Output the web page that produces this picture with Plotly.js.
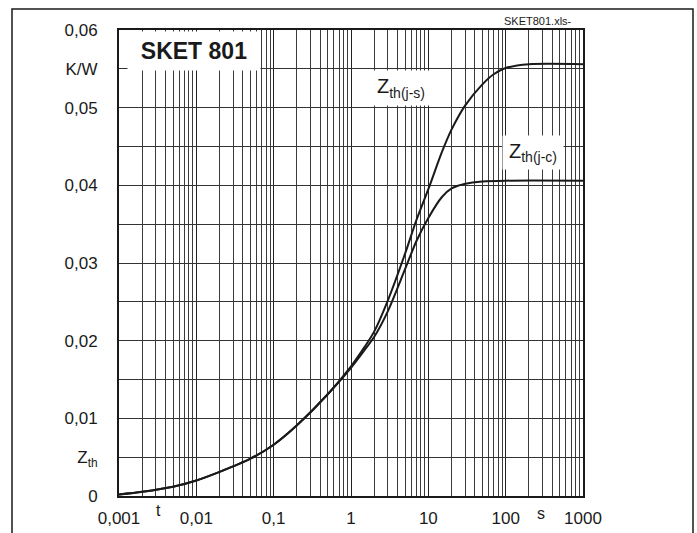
<!DOCTYPE html>
<html>
<head>
<meta charset="utf-8">
<script src="https://cdn.plot.ly/plotly-3.0.1.min.js"></script>
<style>html,body{margin:0;padding:0;background:#fff;}#chart{width:697px;height:533px;}</style>
</head>
<body>
<div id="chart"></div>
<script>
// Data
const timeJS = [0.001, 0.002, 0.005, 0.01, 0.02, 0.05, 0.1, 0.2, 0.5, 1, 1.5, 2, 3, 5, 7, 10, 15, 20, 30, 50, 70, 100, 200, 1000];
const zthJS  = [0.0002, 0.00055, 0.0012, 0.002, 0.0031, 0.0048, 0.0066, 0.0091, 0.0131, 0.0167, 0.0192, 0.0212, 0.0252, 0.0312, 0.0355, 0.0395, 0.0443, 0.0472, 0.0503, 0.053, 0.0543, 0.0551, 0.0556, 0.0556];
const timeJC = [0.001, 0.002, 0.005, 0.01, 0.02, 0.05, 0.1, 0.2, 0.5, 1, 1.5, 2, 3, 5, 7, 10, 15, 20, 30, 50, 100, 1000];
const zthJC  = [0.0002, 0.00055, 0.0012, 0.002, 0.0031, 0.0048, 0.0066, 0.0091, 0.0131, 0.0165, 0.0188, 0.0205, 0.0238, 0.0292, 0.0328, 0.0358, 0.0385, 0.0396, 0.0402, 0.0405, 0.0406, 0.0406];

const xTickVals = [0.001, 0.01, 0.1, 1, 10, 100, 1000];
const xTickText = ['0,001', '0,01', '0,1', '1', '10', '100', '1000'];
const xMinorVals = [];
for (let d = -3; d < 3; d++) { for (let m = 2; m <= 9; m++) { xMinorVals.push(m * Math.pow(10, d)); } }
const yTickVals = [0, 0.005, 0.01, 0.015, 0.02, 0.025, 0.03, 0.035, 0.04, 0.045, 0.05, 0.055, 0.06];
const yTickText = ['0', 'Z<sub>th</sub>', '0,01', '', '0,02', '', '0,03', '', '0,04', '', '0,05', 'K/W', '0,06'];

const FONT = 'Liberation Sans, Arial, sans-serif';
const lineStyle = {color: '#1a1a1a', width: 2, shape: 'spline', smoothing: 0.8};

const traces = [
  {x: timeJS, y: zthJS, type: 'scatter', mode: 'lines', line: lineStyle, name: 'Zth(j-s)', hoverinfo: 'skip'},
  {x: timeJC, y: zthJC, type: 'scatter', mode: 'lines', line: lineStyle, name: 'Zth(j-c)', hoverinfo: 'skip'}
];

const W = 464, H = 466, L = 119, T = 30;
const px = v => (v - L) / W;
const py = v => (T + H - v) / H;

const layout = {
  width: 697, height: 533,
  margin: {l: 119, r: 114, t: 30, b: 37, pad: 0},
  paper_bgcolor: '#fff', plot_bgcolor: '#fff',
  showlegend: false,
  font: {family: FONT, color: '#1a1a1a', size: 17},
  xaxis: {
    type: 'log', range: [-3, 3],
    tickmode: 'array', tickvals: xTickVals, ticktext: xTickText,
    showgrid: true, gridcolor: '#222', gridwidth: 1,
    minor: {tickmode: 'array', tickvals: xMinorVals, showgrid: true, gridcolor: '#3c3c3c', gridwidth: 1, ticks: ''},
    showline: true, linecolor: '#1a1a1a', linewidth: 2, mirror: true,
    ticks: 'outside', ticklen: 6, tickcolor: 'rgba(0,0,0,0)',
    tickfont: {family: FONT, size: 17, color: '#1a1a1a'},
    zeroline: false, fixedrange: true
  },
  yaxis: {
    range: [0, 0.06],
    tickmode: 'array', tickvals: yTickVals, ticktext: yTickText,
    showgrid: true, gridcolor: '#333', gridwidth: 1,
    showline: true, linecolor: '#1a1a1a', linewidth: 2, mirror: true,
    ticks: 'outside', ticklen: 16, tickcolor: 'rgba(0,0,0,0)',
    tickfont: {family: FONT, size: 17, color: '#1a1a1a'},
    zeroline: false, fixedrange: true
  },
  shapes: [
    {type: 'rect', xref: 'paper', yref: 'paper', x0: px(12), x1: px(693), y0: py(545), y1: py(9),
     line: {color: '#1a1a1a', width: 1.5}, fillcolor: 'rgba(0,0,0,0)', layer: 'below'}
  ],
  annotations: [
    {xref: 'paper', yref: 'paper', x: px(194), y: py(51), text: '<b>SKET 801</b>', showarrow: false,
     font: {family: FONT, size: 23, color: '#1a1a1a'}, bgcolor: '#fff', width: 130, height: 36,
     xanchor: 'center', yanchor: 'middle'},
    {xref: 'paper', yref: 'paper', x: px(401), y: py(88), text: 'Z<sub>th(j-s)</sub>', showarrow: false,
     font: {family: FONT, size: 20, color: '#1a1a1a'}, bgcolor: '#fff', width: 56, height: 32,
     xanchor: 'center', yanchor: 'middle'},
    {xref: 'paper', yref: 'paper', x: px(533), y: py(152), text: 'Z<sub>th(j-c)</sub>', showarrow: false,
     font: {family: FONT, size: 20, color: '#1a1a1a'}, bgcolor: '#fff', width: 58, height: 31,
     xanchor: 'center', yanchor: 'middle'},
    {xref: 'paper', yref: 'paper', x: px(574), y: py(29), text: 'SKET801.xls-', showarrow: false,
     font: {family: FONT, size: 11, color: '#1a1a1a'}, xanchor: 'right', yanchor: 'bottom'},
    {xref: 'paper', yref: 'paper', x: px(158), y: py(510), text: 't', showarrow: false,
     font: {family: FONT, size: 16, color: '#1a1a1a'}, xanchor: 'center', yanchor: 'middle'},
    {xref: 'paper', yref: 'paper', x: px(541), y: py(513), text: 's', showarrow: false,
     font: {family: FONT, size: 16, color: '#1a1a1a'}, xanchor: 'center', yanchor: 'middle'}
  ]
};

Plotly.newPlot('chart', traces, layout, {staticPlot: true, displayModeBar: false});
</script>
</body>
</html>
